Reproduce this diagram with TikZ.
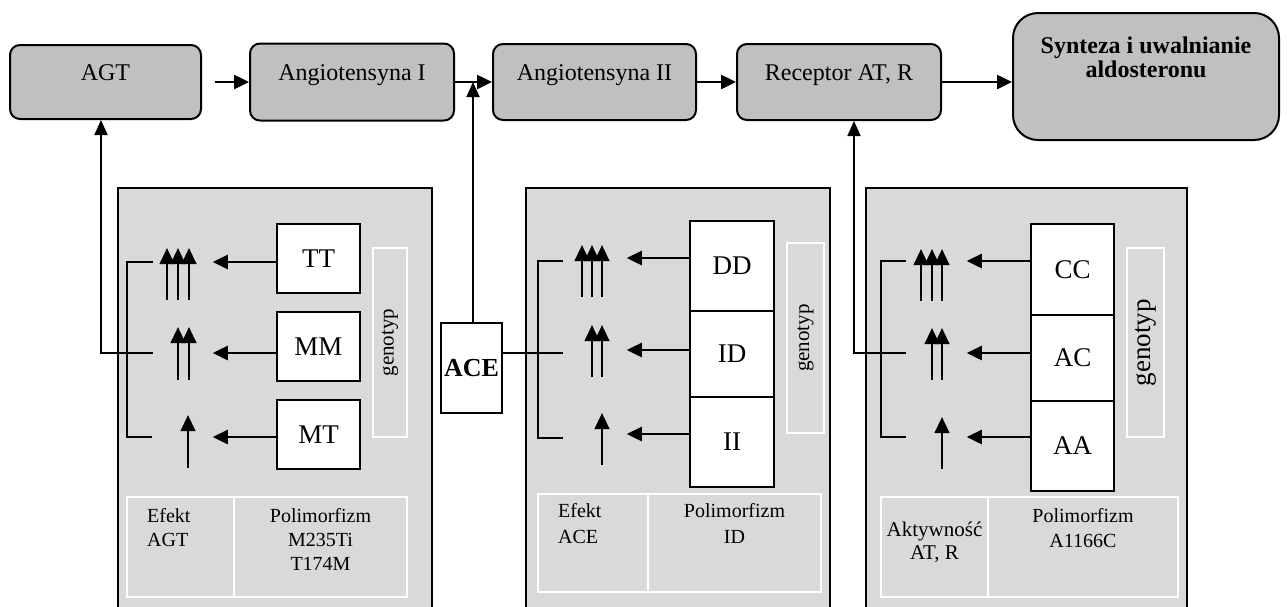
\documentclass[tikz,border=0pt]{standalone}
\usepackage{fontspec}
\setmainfont{Liberation Serif}
\usetikzlibrary{arrows.meta}
\definecolor{topgray}{HTML}{C0C0C0}
\definecolor{panelgray}{HTML}{D9D9D9}
\begin{document}
\begin{tikzpicture}[x=1pt,y=-1pt,
  topbox/.style={draw, fill=topgray, line width=2pt, rounded corners=10pt, inner sep=0},
  gbox/.style={draw, fill=white, line width=2.5pt, inner sep=0, font=\fontsize{27}{30}\selectfont},
  arr/.style={-{Triangle[length=15pt,width=14pt]}, line width=2.5pt},
  uparr/.style={-{Triangle[length=16pt,width=14.5pt]}, line width=2.6pt},
  fb/.style={-{Triangle[length=15pt,width=13pt]}, line width=1.8pt},
  thin/.style={line width=1.8pt},
  wbox/.style={draw=white, line width=2pt},
  lbl/.style={font=\fontsize{24}{24}\selectfont, inner sep=0},
  tbl/.style={font=\fontsize{20}{24}\selectfont, inner sep=0, anchor=north, align=center},
  tblb/.style={font=\fontsize{20}{26}\selectfont, inner sep=0, anchor=north, align=center},
  geno/.style={wbox, rotate=90, inner sep=0, font=\fontsize{21}{24}\selectfont},
  panel/.style={fill=panelgray},
  pedge/.style={line width=2pt},
]
\useasboundingbox (0,0) rectangle (1287,606);
\clip (0,0) rectangle (1287,606);

% ---------- top row ----------
\node[topbox, minimum width=191pt, minimum height=74pt] (AGT) at (105.5,82) {};
\node[topbox, minimum width=204pt, minimum height=77pt] (AngI) at (352,82) {};
\node[topbox, minimum width=203pt, minimum height=76pt] (AngII) at (594.5,82) {};
\node[topbox, minimum width=204pt, minimum height=76pt] (Rec) at (839,82) {};
\node[topbox, rounded corners=25pt, minimum width=266pt, minimum height=127pt] (Syn) at (1146,76.5) {};

\node[lbl, anchor=base] (tAGT) at (AGT.center |- 0,80) {AGT};
\node[lbl, anchor=base] (tAngI) at (AngI.center |- 0,80) {Angiotensyna I};
\node[lbl, anchor=base] (tAngII) at (AngII.center |- 0,80) {Angiotensyna II};
\node[lbl, anchor=base] (tRec) at (Rec.center |- 0,80) {Receptor AT, R};
\node[lbl, font=\bfseries\fontsize{24}{24}\selectfont, align=center, anchor=north] (tSyn) at (1146,37) {Synteza i uwalnianie\\aldosteronu};

\draw[arr] ([xshift=13pt]AGT.east) -- (AngI.west);
\draw[arr] (AngI.east) -- (AngII.west);
\draw[arr] (AngII.east) -- (Rec.west);
\draw[arr] (Rec.east) -- (Rec.east -| Syn.west);

% ---------- panels ----------
\fill[panel] (118,188) rectangle (432,620);
\draw[pedge] (118,620) |- (432,188) -- (432,620);
\fill[panel] (526,188) rectangle (830,620);
\draw[pedge] (526,620) |- (830,188) -- (830,620);
\fill[panel] (866,188) rectangle (1187,620);
\draw[pedge] (866,620) |- (1187,188) -- (1187,620);

% ---------- panel 1 (AGT) ----------
\node[gbox, minimum width=83pt, minimum height=69pt] (TT) at (318.5,258.5) {TT};
\node[gbox, minimum width=83pt, minimum height=69pt] (MM) at (318.5,346.5) {MM};
\node[gbox, minimum width=83pt, minimum height=69pt] (MT) at (318.5,434.5) {MT};
\draw[arr] ([yshift=-3.5pt]TT.west) -- ++(-63,0);
\draw[arr] ([yshift=-6.5pt]MM.west) -- ++(-63,0);
\draw[arr] ([yshift=-2.5pt]MT.west) -- ++(-63,0);
\foreach \x in {167,178,189} \draw[uparr] (\x,300) -- (\x,248);
\foreach \x in {178,189} \draw[uparr] (\x,380) -- (\x,327);
\draw[uparr] (188,468) -- (188,415);
\draw[thin] (153,262) -- (127,262) -- (127,437) -- (152,437);
\coordinate (f1) at (153,353);
\draw[fb] (f1) -| ([xshift=-4.5pt]AGT.south);
\node[geno, minimum width=189pt, minimum height=34pt] (g1) at (390,342.5) {genotyp};
\draw[wbox] (127,497) rectangle (407,597);
\draw[wbox] (234,497) -- (234,597);
\node[tbl, align=left, anchor=north west] (e1) at (147,508) {Efekt\\AGT};
\node[tbl] (p1) at (320.5,508) {Polimorfizm\\M235Ti\\T174M};

% ---------- ACE ----------
\node[draw, fill=white, line width=2pt, minimum width=61pt, minimum height=90pt, inner sep=0,
      font=\bfseries\fontsize{26}{30}\selectfont] (ACE) at (471.5,368) {ACE};
\draw[fb] ([xshift=1.5pt]ACE.north) -- ([xshift=1.5pt]ACE.north |- AngI.east);
\coordinate (f2) at (563,353);
\draw[thin] ([yshift=15pt]ACE.east) -- (f2);

% ---------- panel 2 (ACE) ----------
\node[gbox, minimum width=84pt, minimum height=90pt] (DD) at (732,266) {DD};
\node[gbox, minimum width=84pt, minimum height=86pt] (ID) at (732,354) {ID};
\node[gbox, minimum width=84pt, minimum height=90pt] (II) at (732,442) {II};
\draw[arr] ([yshift=8pt]DD.west) -- ++(-62,0);
\draw[arr] ([yshift=4pt]ID.west) -- ++(-62,0);
\draw[arr] ([yshift=8pt]II.west) -- ++(-62,0);
\foreach \x in {582,592,602} \draw[uparr] (\x,297) -- (\x,245);
\foreach \x in {592,602} \draw[uparr] (\x,377) -- (\x,325);
\draw[uparr] (602,465) -- (602,413);
\draw[thin] (563,261) -- (538,261) -- (538,438) -- (563,438);
\node[geno, minimum width=190pt, minimum height=37pt] (g2) at (805.5,338) {genotyp};
\draw[wbox] (538,494) rectangle (821,592);
\draw[wbox] (648,494) -- (648,592);
\node[tblb, align=left, anchor=north west] (e2) at (558,503) {Efekt\\ACE};
\node[tblb] (p2) at (734.5,503) {Polimorfizm\\ID};

% ---------- panel 3 (receptor) ----------
\node[gbox, minimum width=83pt, minimum height=91pt] (CC) at (1072.5,269.5) {CC};
\node[gbox, minimum width=83pt, minimum height=86pt] (AC) at (1072.5,358) {AC};
\node[gbox, minimum width=83pt, minimum height=90pt] (AA) at (1072.5,446) {AA};
\draw[arr] ([yshift=8.5pt]CC.west) -- ++(-63,0);
\draw[arr] ([yshift=5pt]AC.west) -- ++(-63,0);
\draw[arr] ([yshift=9pt]AA.west) -- ++(-63,0);
\foreach \x in {921,932,942} \draw[uparr] (\x,301) -- (\x,249);
\foreach \x in {932,942} \draw[uparr] (\x,380) -- (\x,328);
\draw[uparr] (942,469) -- (942,417);
\draw[thin] (906,261) -- (881,261) -- (881,437) -- (906,437);
\coordinate (f3) at (906,353);
\draw[fb] (f3) -| ([xshift=15pt]Rec.south);
\node[geno, minimum width=189pt, minimum height=37pt, font=\fontsize{27}{30}\selectfont] (g3) at (1145.5,342.5) {genotyp};
\draw[wbox] (881,497) rectangle (1178,597);
\draw[wbox] (988,497) -- (988,597);
\node[tbl, font=\fontsize{21}{23}\selectfont] (e3) at (934.5,522) {Aktywność\\AT, R};
\node[tbl, font=\fontsize{20}{25}\selectfont] (p3) at (1083,508) {Polimorfizm\\A1166C};
\end{tikzpicture}
\end{document}
